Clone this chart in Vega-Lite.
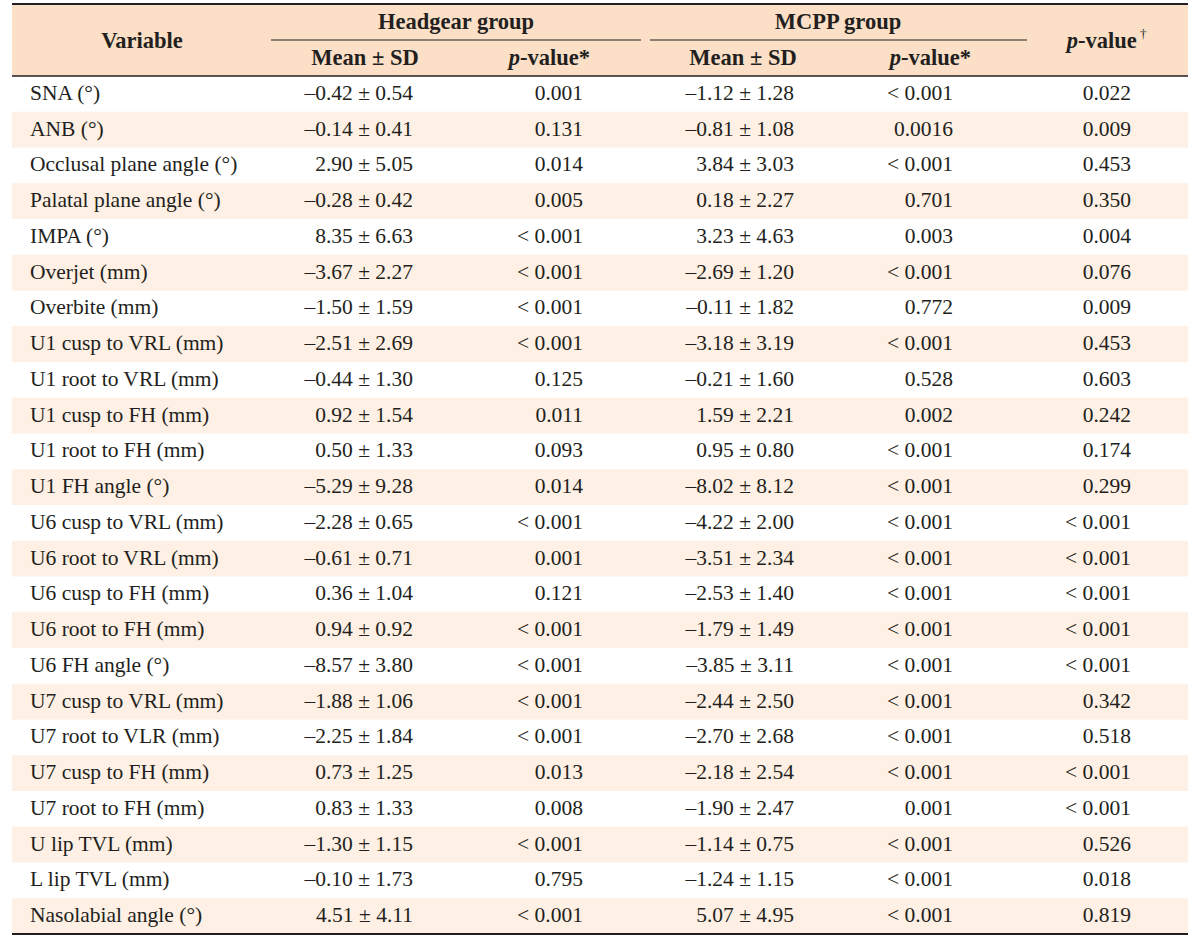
{
  "$schema": "https://vega.github.io/schema/vega-lite/v6.json",
  "width": 1200,
  "height": 940,
  "padding": 0,
  "autosize": {"type": "fit", "contains": "padding"},
  "background": "white",
  "config": {
    "view": {"stroke": null},
    "text": {"font": "Liberation Serif", "fontSize": 21.5, "color": "#231F20", "baseline": "middle"}
  },
  "data": {
    "values": [
      {"i": 1, "variable": "SNA (°)", "hg_mean": "–0.42 ± 0.54", "hg_p": "0.001", "mc_mean": "–1.12 ± 1.28", "mc_p": "< 0.001", "p": "0.022"},
      {"i": 2, "variable": "ANB (°)", "hg_mean": "–0.14 ± 0.41", "hg_p": "0.131", "mc_mean": "–0.81 ± 1.08", "mc_p": "0.0016", "p": "0.009"},
      {"i": 3, "variable": "Occlusal plane angle (°)", "hg_mean": "2.90 ± 5.05", "hg_p": "0.014", "mc_mean": "3.84 ± 3.03", "mc_p": "< 0.001", "p": "0.453"},
      {"i": 4, "variable": "Palatal plane angle (°)", "hg_mean": "–0.28 ± 0.42", "hg_p": "0.005", "mc_mean": "0.18 ± 2.27", "mc_p": "0.701", "p": "0.350"},
      {"i": 5, "variable": "IMPA (°)", "hg_mean": "8.35 ± 6.63", "hg_p": "< 0.001", "mc_mean": "3.23 ± 4.63", "mc_p": "0.003", "p": "0.004"},
      {"i": 6, "variable": "Overjet (mm)", "hg_mean": "–3.67 ± 2.27", "hg_p": "< 0.001", "mc_mean": "–2.69 ± 1.20", "mc_p": "< 0.001", "p": "0.076"},
      {"i": 7, "variable": "Overbite (mm)", "hg_mean": "–1.50 ± 1.59", "hg_p": "< 0.001", "mc_mean": "–0.11 ± 1.82", "mc_p": "0.772", "p": "0.009"},
      {"i": 8, "variable": "U1 cusp to VRL (mm)", "hg_mean": "–2.51 ± 2.69", "hg_p": "< 0.001", "mc_mean": "–3.18 ± 3.19", "mc_p": "< 0.001", "p": "0.453"},
      {"i": 9, "variable": "U1 root to VRL (mm)", "hg_mean": "–0.44 ± 1.30", "hg_p": "0.125", "mc_mean": "–0.21 ± 1.60", "mc_p": "0.528", "p": "0.603"},
      {"i": 10, "variable": "U1 cusp to FH (mm)", "hg_mean": "0.92 ± 1.54", "hg_p": "0.011", "mc_mean": "1.59 ± 2.21", "mc_p": "0.002", "p": "0.242"},
      {"i": 11, "variable": "U1 root to FH (mm)", "hg_mean": "0.50 ± 1.33", "hg_p": "0.093", "mc_mean": "0.95 ± 0.80", "mc_p": "< 0.001", "p": "0.174"},
      {"i": 12, "variable": "U1 FH angle (°)", "hg_mean": "–5.29 ± 9.28", "hg_p": "0.014", "mc_mean": "–8.02 ± 8.12", "mc_p": "< 0.001", "p": "0.299"},
      {"i": 13, "variable": "U6 cusp to VRL (mm)", "hg_mean": "–2.28 ± 0.65", "hg_p": "< 0.001", "mc_mean": "–4.22 ± 2.00", "mc_p": "< 0.001", "p": "< 0.001"},
      {"i": 14, "variable": "U6 root to VRL (mm)", "hg_mean": "–0.61 ± 0.71", "hg_p": "0.001", "mc_mean": "–3.51 ± 2.34", "mc_p": "< 0.001", "p": "< 0.001"},
      {"i": 15, "variable": "U6 cusp to FH (mm)", "hg_mean": "0.36 ± 1.04", "hg_p": "0.121", "mc_mean": "–2.53 ± 1.40", "mc_p": "< 0.001", "p": "< 0.001"},
      {"i": 16, "variable": "U6 root to FH (mm)", "hg_mean": "0.94 ± 0.92", "hg_p": "< 0.001", "mc_mean": "–1.79 ± 1.49", "mc_p": "< 0.001", "p": "< 0.001"},
      {"i": 17, "variable": "U6 FH angle (°)", "hg_mean": "–8.57 ± 3.80", "hg_p": "< 0.001", "mc_mean": "–3.85 ± 3.11", "mc_p": "< 0.001", "p": "< 0.001"},
      {"i": 18, "variable": "U7 cusp to VRL (mm)", "hg_mean": "–1.88 ± 1.06", "hg_p": "< 0.001", "mc_mean": "–2.44 ± 2.50", "mc_p": "< 0.001", "p": "0.342"},
      {"i": 19, "variable": "U7 root to VLR (mm)", "hg_mean": "–2.25 ± 1.84", "hg_p": "< 0.001", "mc_mean": "–2.70 ± 2.68", "mc_p": "< 0.001", "p": "0.518"},
      {"i": 20, "variable": "U7 cusp to FH (mm)", "hg_mean": "0.73 ± 1.25", "hg_p": "0.013", "mc_mean": "–2.18 ± 2.54", "mc_p": "< 0.001", "p": "< 0.001"},
      {"i": 21, "variable": "U7 root to FH (mm)", "hg_mean": "0.83 ± 1.33", "hg_p": "0.008", "mc_mean": "–1.90 ± 2.47", "mc_p": "0.001", "p": "< 0.001"},
      {"i": 22, "variable": "U lip TVL (mm)", "hg_mean": "–1.30 ± 1.15", "hg_p": "< 0.001", "mc_mean": "–1.14 ± 0.75", "mc_p": "< 0.001", "p": "0.526"},
      {"i": 23, "variable": "L lip TVL (mm)", "hg_mean": "–0.10 ± 1.73", "hg_p": "0.795", "mc_mean": "–1.24 ± 1.15", "mc_p": "< 0.001", "p": "0.018"},
      {"i": 24, "variable": "Nasolabial angle (°)", "hg_mean": "4.51 ± 4.11", "hg_p": "< 0.001", "mc_mean": "5.07 ± 4.95", "mc_p": "< 0.001", "p": "0.819"}
    ]
  },
  "resolve": {"scale": {"x": "shared", "y": "shared"}},
  "layer": [
    {
      "data": {"values": [{}]},
      "mark": {"type": "rect", "color": "#FCDFC7"},
      "encoding": {
        "x": {"datum": 12, "type": "quantitative", "scale": {"domain": [0, 1200], "nice": false, "zero": false}, "axis": null},
        "x2": {"datum": 1188},
        "y": {"datum": -1.514, "type": "quantitative", "scale": {"domain": [-1.626, 24.668], "nice": false, "zero": false, "reverse": true}, "axis": null},
        "y2": {"datum": 0.5}
      }
    },
    {
      "transform": [{"filter": "datum.i % 2 == 0"}],
      "mark": {"type": "tick", "orient": "horizontal", "color": "#FEF0E4", "opacity": 1, "size": 1176, "thickness": 35.75},
      "encoding": {
        "x": {"datum": 600, "type": "quantitative"},
        "y": {"field": "i", "type": "quantitative"}
      }
    },
    {
      "data": {"values": [{}]},
      "mark": {"type": "rule", "color": "#231F20", "strokeWidth": 2},
      "encoding": {"x": {"datum": 12, "type": "quantitative"}, "x2": {"datum": 1188}, "y": {"datum": -1.514, "type": "quantitative"}}
    },
    {
      "data": {"values": [{}]},
      "mark": {"type": "rule", "color": "#231F20", "strokeWidth": 1.5},
      "encoding": {"x": {"datum": 12, "type": "quantitative"}, "x2": {"datum": 1188}, "y": {"datum": 0.5, "type": "quantitative"}}
    },
    {
      "data": {"values": [{}]},
      "mark": {"type": "rule", "color": "#231F20", "strokeWidth": 2},
      "encoding": {"x": {"datum": 12, "type": "quantitative"}, "x2": {"datum": 1188}, "y": {"datum": 24.5, "type": "quantitative"}}
    },
    {
      "data": {"values": [{}]},
      "mark": {"type": "rule", "color": "#231F20", "strokeWidth": 1},
      "encoding": {"x": {"datum": 271, "type": "quantitative"}, "x2": {"datum": 641}, "y": {"datum": -0.507, "type": "quantitative"}}
    },
    {
      "data": {"values": [{}]},
      "mark": {"type": "rule", "color": "#231F20", "strokeWidth": 1},
      "encoding": {"x": {"datum": 650, "type": "quantitative"}, "x2": {"datum": 1027}, "y": {"datum": -0.507, "type": "quantitative"}}
    },
    {
      "data": {"values": [{}]},
      "mark": {"type": "text", "text": "Variable", "fontWeight": "bold", "fontSize": 22.5, "align": "center"},
      "encoding": {"x": {"datum": 142, "type": "quantitative"}, "y": {"datum": -0.479, "type": "quantitative"}}
    },
    {
      "data": {"values": [{}]},
      "mark": {"type": "text", "text": "Headgear group", "fontWeight": "bold", "fontSize": 22.5, "align": "center"},
      "encoding": {"x": {"datum": 456, "type": "quantitative"}, "y": {"datum": -1.011, "type": "quantitative"}}
    },
    {
      "data": {"values": [{}]},
      "mark": {"type": "text", "text": "MCPP group", "fontWeight": "bold", "fontSize": 22.5, "align": "center"},
      "encoding": {"x": {"datum": 838, "type": "quantitative"}, "y": {"datum": -1.011, "type": "quantitative"}}
    },
    {
      "data": {"values": [{}]},
      "mark": {"type": "text", "text": "Mean ± SD", "fontWeight": "bold", "fontSize": 22.5, "align": "center"},
      "encoding": {"x": {"datum": 365, "type": "quantitative"}, "y": {"datum": 0, "type": "quantitative"}}
    },
    {
      "data": {"values": [{}]},
      "mark": {"type": "text", "text": "Mean ± SD", "fontWeight": "bold", "fontSize": 22.5, "align": "center"},
      "encoding": {"x": {"datum": 743, "type": "quantitative"}, "y": {"datum": 0, "type": "quantitative"}}
    },
    {
      "data": {"values": [{}]},
      "mark": {"type": "text", "text": "p", "fontWeight": "bold", "fontStyle": "italic", "fontSize": 22.5, "align": "right"},
      "encoding": {"x": {"datum": 520, "type": "quantitative"}, "y": {"datum": 0, "type": "quantitative"}}
    },
    {
      "data": {"values": [{}]},
      "mark": {"type": "text", "text": "-value*", "fontWeight": "bold", "fontSize": 22.5, "align": "left"},
      "encoding": {"x": {"datum": 520, "type": "quantitative"}, "y": {"datum": 0, "type": "quantitative"}}
    },
    {
      "data": {"values": [{}]},
      "mark": {"type": "text", "text": "p", "fontWeight": "bold", "fontStyle": "italic", "fontSize": 22.5, "align": "right"},
      "encoding": {"x": {"datum": 901, "type": "quantitative"}, "y": {"datum": 0, "type": "quantitative"}}
    },
    {
      "data": {"values": [{}]},
      "mark": {"type": "text", "text": "-value*", "fontWeight": "bold", "fontSize": 22.5, "align": "left"},
      "encoding": {"x": {"datum": 901, "type": "quantitative"}, "y": {"datum": 0, "type": "quantitative"}}
    },
    {
      "data": {"values": [{}]},
      "mark": {"type": "text", "text": "p", "fontWeight": "bold", "fontStyle": "italic", "fontSize": 22.5, "align": "right"},
      "encoding": {"x": {"datum": 1078, "type": "quantitative"}, "y": {"datum": -0.479, "type": "quantitative"}}
    },
    {
      "data": {"values": [{}]},
      "mark": {"type": "text", "text": "-value", "fontWeight": "bold", "fontSize": 22.5, "align": "left"},
      "encoding": {"x": {"datum": 1078, "type": "quantitative"}, "y": {"datum": -0.479, "type": "quantitative"}}
    },
    {
      "data": {"values": [{}]},
      "mark": {"type": "text", "text": "†", "fontSize": 13, "align": "left"},
      "encoding": {"x": {"datum": 1140, "type": "quantitative"}, "y": {"datum": -0.68, "type": "quantitative"}}
    },
    {
      "mark": {"type": "text", "align": "left"},
      "encoding": {"x": {"datum": 30, "type": "quantitative"}, "y": {"field": "i", "type": "quantitative"}, "text": {"field": "variable"}}
    },
    {
      "mark": {"type": "text", "align": "right"},
      "encoding": {"x": {"datum": 413, "type": "quantitative"}, "y": {"field": "i", "type": "quantitative"}, "text": {"field": "hg_mean"}}
    },
    {
      "mark": {"type": "text", "align": "right"},
      "encoding": {"x": {"datum": 583, "type": "quantitative"}, "y": {"field": "i", "type": "quantitative"}, "text": {"field": "hg_p"}}
    },
    {
      "mark": {"type": "text", "align": "right"},
      "encoding": {"x": {"datum": 794, "type": "quantitative"}, "y": {"field": "i", "type": "quantitative"}, "text": {"field": "mc_mean"}}
    },
    {
      "mark": {"type": "text", "align": "right"},
      "encoding": {"x": {"datum": 953, "type": "quantitative"}, "y": {"field": "i", "type": "quantitative"}, "text": {"field": "mc_p"}}
    },
    {
      "mark": {"type": "text", "align": "right"},
      "encoding": {"x": {"datum": 1131, "type": "quantitative"}, "y": {"field": "i", "type": "quantitative"}, "text": {"field": "p"}}
    }
  ]
}
